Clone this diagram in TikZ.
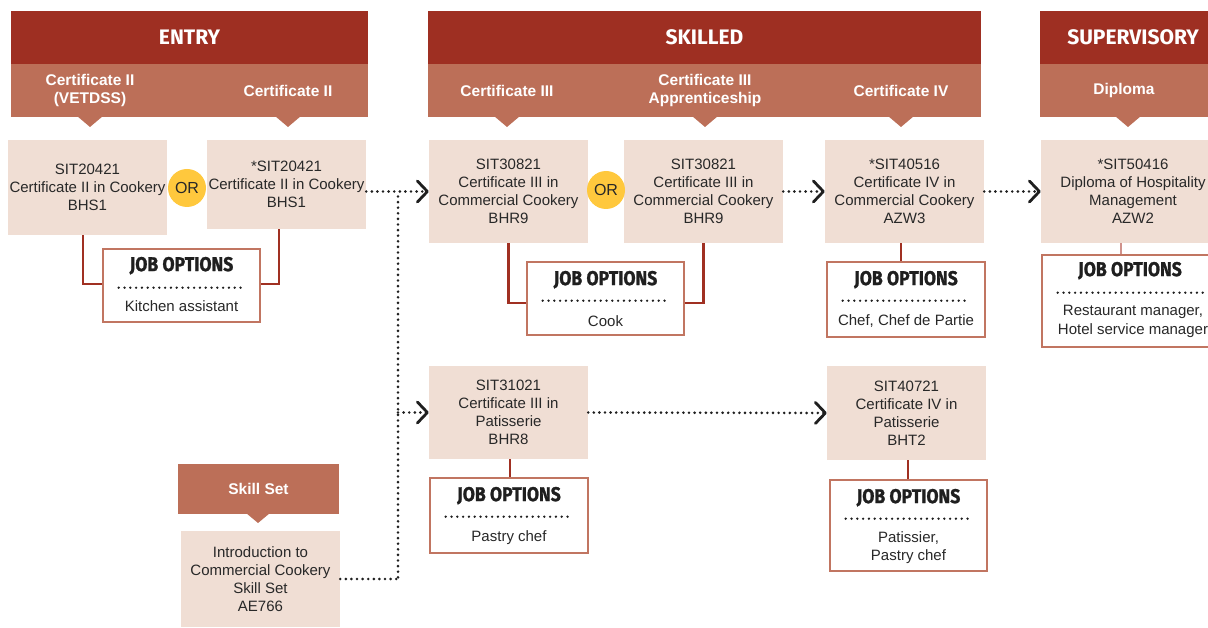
\documentclass[tikz,border=0pt]{standalone}
\usepackage{fontspec}
\usepackage{graphicx}
\setmainfont{Liberation Sans}
\newfontfamily\hdfont{Fira Sans}
\newfontfamily\jobfont{Fira Sans}[BoldFeatures={FakeBold=1.2}]
\usetikzlibrary{arrows.meta}
\definecolor{hdark}{RGB}{158,47,34}
\definecolor{hlight}{RGB}{188,111,88}
\definecolor{boxfill}{RGB}{240,222,212}
\definecolor{orfill}{RGB}{255,200,61}
\definecolor{connred}{RGB}{160,48,34}
\definecolor{connpink}{RGB}{208,146,140}
\definecolor{jobline}{RGB}{193,117,97}
\definecolor{txt}{RGB}{40,40,40}
\begin{document}
\begin{tikzpicture}[x=1pt,y=-1pt,
 hdband/.style={fill=hdark, inner sep=0, minimum height=53, text=white, font=\hdfont\bfseries\fontsize{21}{24}\selectfont},
 subband/.style={fill=hlight, inner sep=0, minimum height=53},
 subtxt/.style={text=white, align=center, inner sep=0, font=\bfseries\fontsize{15.5}{18}\selectfont},
 cbox/.style={fill=boxfill, text=txt, align=center, inner sep=0, minimum width=159, font=\fontsize{15}{18}\selectfont},
 orc/.style={circle, fill=orfill, text=txt, inner sep=0, minimum size=38, font=\fontsize{16}{18}\selectfont},
 jobbox/.style={draw=jobline, line width=2.6pt, fill=white, inner sep=0},
 jtitle/.style={inner sep=0, text=black!88, font=\jobfont\bfseries\fontsize{20}{22}\selectfont},
 jtext/.style={inner sep=0, text=txt, align=center, font=\fontsize{15}{18.5}\selectfont},
 jdots/.style={line width=2.6pt, dash pattern=on 0pt off 5.8pt, line cap=round, black!88},
 conn/.style={draw=connred, line width=2.4pt},
 dotline/.style={line width=2.9pt, dash pattern=on 0pt off 5.6pt, line cap=round, black!88},
 dotarrow/.style={dotline, -{Straight Barb[length=10pt,width=21pt,line width=2.8pt,round]}},
 tri/.style={fill=hlight}]
\useasboundingbox (0,0) rectangle (1208,628);
\clip (0,0) rectangle (1208,628);

% ---------- headers ----------
\node[hdband, minimum width=357] (hE) at (189.5,37.5) {ENTRY};
\node[subband, minimum width=357] (sE) at (189.5,90.5) {};
\node[subtxt] (sE1) at (90,90.5) {Certificate II\\(VETDSS)};
\node[subtxt] (sE2) at (288,90.5) {Certificate II};
\fill[tri] (77,116) -- (103,116) -- (90,127) -- cycle;
\fill[tri] (275,116) -- (301,116) -- (288,127) -- cycle;

\node[hdband, minimum width=553] (hS) at (704.5,37.5) {SKILLED};
\node[subband, minimum width=553] (sS) at (704.5,90.5) {};
\node[subtxt] (sS1) at (507,90.5) {Certificate III};
\node[subtxt] (sS2) at (705,90.5) {Certificate III\\Apprenticeship};
\node[subtxt] (sS3) at (901,90.5) {Certificate IV};
\fill[tri] (494,116) -- (520,116) -- (507,127) -- cycle;
\fill[tri] (692,116) -- (718,116) -- (705,127) -- cycle;
\fill[tri] (888,116) -- (914,116) -- (901,127) -- cycle;

\node[hdband, minimum width=186] (hV) at (1133,37.5) {SUPERVISORY};
\node[subband, minimum width=186] (sV) at (1133,90.5) {};
\node[subtxt] (sV1) at (1124,90.5) {Diploma};
\fill[tri] (1115,116) -- (1141,116) -- (1128,127) -- cycle;

\node[subband, minimum width=161, minimum height=50] (hK) at (258.5,489) {};
\node[subtxt] (hKt) at (258.5,489) {Skill Set};
\fill[tri] (246,513) -- (270,513) -- (258,523) -- cycle;

% ---------- course boxes ----------
\node[cbox, minimum height=95] (e1) at (87.5,187.5) {SIT20421\\Certificate II in Cookery\\BHS1};
\node[cbox, minimum height=89] (e2) at (286.5,184.5) {*SIT20421\\Certificate II in Cookery\\BHS1};
\node[orc] (or1) at (187,188) {OR};

\node[cbox, minimum height=103] (s1) at (508.5,191.5) {SIT30821\\Certificate III in\\Commercial Cookery\\BHR9};
\node[cbox, minimum height=103] (s2) at (703.5,191.5) {SIT30821\\Certificate III in\\Commercial Cookery\\BHR9};
\node[orc] (or2) at (606,190) {OR};
\node[cbox, minimum height=103] (s3) at (904.5,191.5) {*SIT40516\\Certificate IV in\\Commercial Cookery\\AZW3};
\node[cbox, minimum width=184, minimum height=103] (d1) at (1133,191.5) {*SIT50416\\Diploma of Hospitality\\Management\\AZW2};

\node[cbox, minimum height=93] (p1) at (508.5,412.5) {SIT31021\\Certificate III in\\Patisserie\\BHR8};
\node[cbox, minimum height=94] (p2) at (906.5,413) {SIT40721\\Certificate IV in\\Patisserie\\BHT2};

\node[cbox, minimum height=96] (sk) at (260.5,579) {Introduction to\\Commercial Cookery\\Skill Set\\AE766};

% ---------- job option boxes ----------
\node[jobbox, minimum width=157, minimum height=73] (j1) at (181.5,285.5) {};
\node[jtitle] (j1t) at ([yshift=-18]j1.north) {\scalebox{0.88}[1]{JOB OPTIONS}};
\draw[jdots] ([xshift=17,yshift=-40]j1.north west) -- ([xshift=-17,yshift=-40]j1.north east);
\node[jtext] (j1x) at ([yshift=-58]j1.north) {Kitchen assistant};

\node[jobbox, minimum width=157, minimum height=73] (j2) at (605.5,298.5) {};
\node[jtitle] (j2t) at ([yshift=-19]j2.north) {\scalebox{0.88}[1]{JOB OPTIONS}};
\draw[jdots] ([xshift=17,yshift=-40]j2.north west) -- ([xshift=-17,yshift=-40]j2.north east);
\node[jtext] (j2x) at ([yshift=-60]j2.north) {Cook};

\node[jobbox, minimum width=158, minimum height=75] (j3) at (906,299.5) {};
\node[jtitle] (j3t) at ([yshift=-19]j3.north) {\scalebox{0.88}[1]{JOB OPTIONS}};
\draw[jdots] ([xshift=17,yshift=-40]j3.north west) -- ([xshift=-17,yshift=-40]j3.north east);
\node[jtext] (j3x) at ([yshift=-60]j3.north) {Chef, Chef de Partie};

\node[jobbox, minimum width=182, minimum height=92] (j4) at (1133,301) {};
\node[jtitle] (j4t) at ([xshift=-3,yshift=-17]j4.north) {\scalebox{0.88}[1]{JOB OPTIONS}};
\draw[jdots] ([xshift=17,yshift=-39]j4.north west) -- ([xshift=-17,yshift=-39]j4.north east);
\node[jtext] (j4x) at ([yshift=-67.5]j4.north) {Restaurant manager,\\Hotel service manager};

\node[jobbox, minimum width=158, minimum height=75] (jp1) at (509,515.5) {};
\node[jtitle] (jp1t) at ([yshift=-19]jp1.north) {\scalebox{0.88}[1]{JOB OPTIONS}};
\draw[jdots] ([xshift=17,yshift=-40]jp1.north west) -- ([xshift=-17,yshift=-40]jp1.north east);
\node[jtext] (jp1x) at ([yshift=-61]jp1.north) {Pastry chef};

\node[jobbox, minimum width=157, minimum height=91] (jp2) at (908.5,525.5) {};
\node[jtitle] (jp2t) at ([yshift=-19]jp2.north) {\scalebox{0.88}[1]{JOB OPTIONS}};
\draw[jdots] ([xshift=17,yshift=-40]jp2.north west) -- ([xshift=-17,yshift=-40]jp2.north east);
\node[jtext] (jp2x) at ([yshift=-69]jp2.north) {Patissier,\\Pastry chef};

% ---------- solid connectors ----------
\draw[conn] ([xshift=-4.5]e1.south) |- ([yshift=1.5]j1.west);
\draw[conn] ([xshift=-7.5]e2.south) |- ([yshift=1.5]j1.east);
\draw[conn] (s1.south) |- ([yshift=-4.5]j2.west);
\draw[conn] (s2.south) |- ([yshift=-4.5]j2.east);
\draw[conn] ([xshift=-3.5]s3.south) -- ([xshift=-3.5]s3.south |- j3.north);
\draw[connpink, line width=2.4pt] ([xshift=-12]d1.south) -- ([xshift=-12]d1.south |- j4.north);
\draw[conn] ([xshift=1.5]p1.south) -- ([xshift=1.5]p1.south |- jp1.north);
\draw[conn] ([xshift=1.5]p2.south) -- ([xshift=1.5]p2.south |- jp2.north);

% ---------- dotted pathways ----------
\coordinate (jn) at (398,191.5);
\draw[dotarrow] (e2.east |- s1.west) -- (s1.west);
\draw[dotline] ([yshift=-5]jn) -- (jn |- sk.east);
\draw[dotline] (sk.east) -- (jn |- sk.east);
\draw[dotarrow] (jn |- p1.west) -- (p1.west);
\draw[dotarrow] (s2.east) -- (s3.west);
\draw[dotarrow] (s3.east) -- (d1.west);
\draw[dotarrow] (p1.east) -- (p2.west);
\end{tikzpicture}
\end{document}
